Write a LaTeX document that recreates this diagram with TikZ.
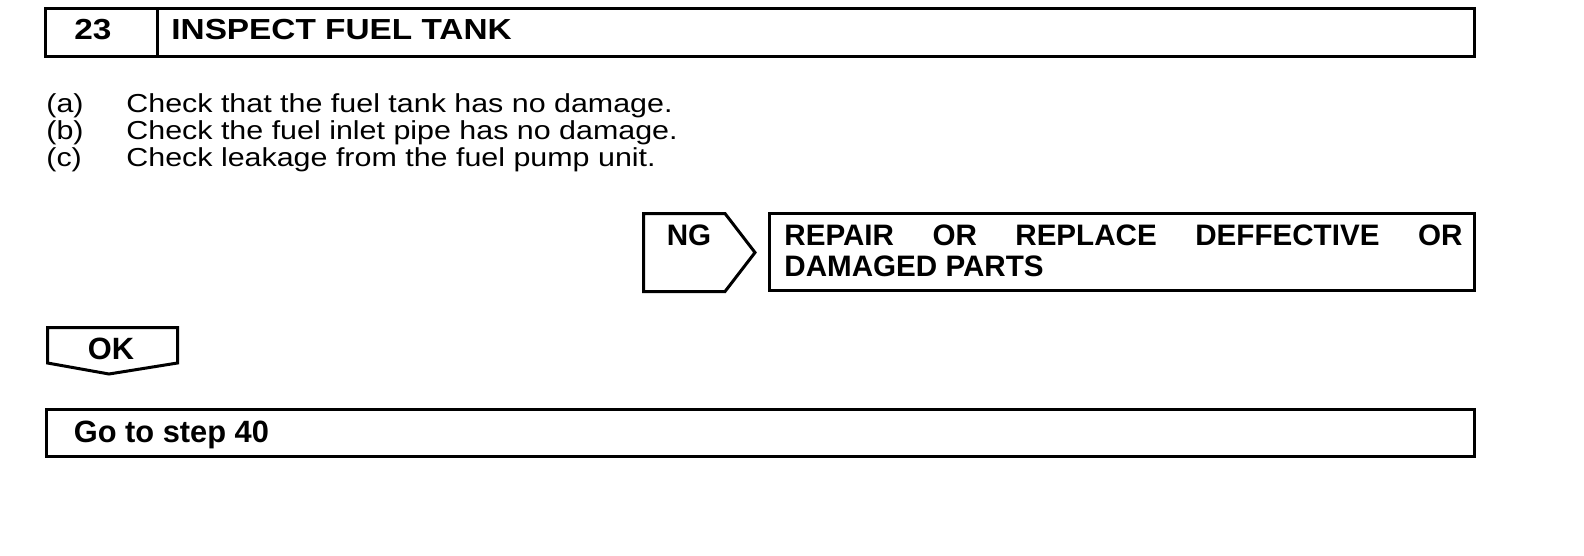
\documentclass[tikz,border=0pt]{standalone}
\usepackage{fontspec}
\setmainfont{Liberation Sans}
\newfontfamily\bodyfont[FakeStretch=1.17]{Liberation Sans}
\newfontfamily\headfont[FakeStretch=1.15]{Liberation Sans}
\begin{document}
\begin{tikzpicture}[x=0.5pt,y=-0.5pt]
\tikzset{
  frame/.style={draw, line width=1.5pt, inner sep=0pt, outer sep=0pt},
  outline/.style={draw, line width=1.5pt, line join=miter},
  bodytxt/.style={inner sep=0pt, anchor=base west, font=\bodyfont\fontsize{13}{16}\selectfont},
  headtxt/.style={inner sep=0pt, font=\headfont\bfseries\fontsize{14.5}{17}\selectfont},
  boldtxt/.style={inner sep=0pt, font=\bfseries\fontsize{14.8}{17}\selectfont},
  oktxt/.style={inner sep=0pt, font=\bfseries\fontsize{15.4}{18}\selectfont}
}
\useasboundingbox (0,0) rectangle (1584,556);
% header
\node[frame, minimum width=714.5pt, minimum height=24pt] (hdr) at (760,32.5) {};
\coordinate (dv) at (157,0);
\draw[line width=1.5pt] (dv |- hdr.north) -- (dv |- hdr.south);
\node[headtxt, anchor=base] (num) at (93,40) {23};
\node[headtxt, anchor=base west] (title) at (171,40) {INSPECT FUEL TANK};
% body
\node[bodytxt] (la) at (46,112.5) {(a)};
\node[bodytxt] (ta) at (126,112.5) {Check that the fuel tank has no damage.};
\node[bodytxt] (lb) at (46,139.2) {(b)};
\node[bodytxt] (tb) at (126,139.2) {Check the fuel inlet pipe has no damage.};
\node[bodytxt] (lc) at (46,166) {(c)};
\node[bodytxt] (tc) at (126,166) {Check leakage from the fuel pump unit.};
% NG arrow
\draw[outline] (643.5,213.5) -- (725,213.5) -- (755,252.5) -- (725,291.5) -- (643.5,291.5) -- cycle;
\node[boldtxt, anchor=base] (ng) at (689,245) {NG};
% repair box
\node[frame, minimum width=352.5pt, minimum height=38.5pt] (rep) at (1122,252) {};
\node[boldtxt, anchor=base west] (rep1) at (784,245) {\makebox[339pt][s]{REPAIR OR REPLACE DEFFECTIVE OR}};
\node[boldtxt, anchor=base west] (rep2) at (784,276) {DAMAGED PARTS};
% OK arrow
\draw[outline] (47.5,327.5) -- (177.5,327.5) -- (177.5,363) -- (109,374) -- (47.5,363) -- cycle;
\node[oktxt, anchor=base] (ok) at (111,359) {OK};
% go to box
\node[frame, minimum width=714pt, minimum height=23.5pt] (go) at (760.5,432.5) {};
\node[oktxt, anchor=base west] (gotxt) at (73.5,442) {Go to step 40};
\end{tikzpicture}
\end{document}
